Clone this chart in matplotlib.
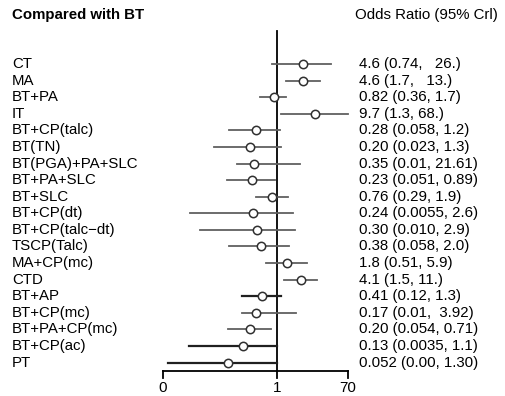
# Forest plot: odds ratios compared with BT

import matplotlib.pyplot as plt
import numpy as np

plt.rcParams['font.family'] = ['Liberation Sans', 'DejaVu Sans']

treatments = ["CT", "MA", "BT+PA", "IT", "BT+CP(talc)", "BT(TN)", "BT(PGA)+PA+SLC",
              "BT+PA+SLC", "BT+SLC", "BT+CP(dt)", "BT+CP(talc\u2212dt)", "TSCP(Talc)",
              "MA+CP(mc)", "CTD", "BT+AP", "BT+CP(mc)", "BT+PA+CP(mc)", "BT+CP(ac)", "PT"]
odds = [4.6, 4.6, 0.82, 9.7, 0.28, 0.20, 0.26, 0.23, 0.76, 0.24, 0.30, 0.38,
        1.8, 4.1, 0.41, 0.29, 0.20, 0.13, 0.052]
ci_low = [0.74, 1.7, 0.36, 1.3, 0.058, 0.023, 0.09, 0.051, 0.29, 0.0055, 0.010, 0.058,
          0.51, 1.5, 0.12, 0.12, 0.054, 0.0052, 0.00145]
ci_high = [26, 13, 1.7, 68, 1.2, 1.3, 3.9, 0.89, 1.9, 2.6, 2.9, 2.0,
           5.9, 11, 1.3, 3.1, 0.71, 1.0, 1.0]
or_text = ["4.6 (0.74,   26.)", "4.6 (1.7,   13.)", "0.82 (0.36, 1.7)", "9.7 (1.3, 68.)",
           "0.28 (0.058, 1.2)", "0.20 (0.023, 1.3)", "0.35 (0.01, 21.61)",
           "0.23 (0.051, 0.89)", "0.76 (0.29, 1.9)", "0.24 (0.0055, 2.6)",
           "0.30 (0.010, 2.9)", "0.38 (0.058, 2.0)", "1.8 (0.51, 5.9)", "4.1 (1.5, 11.)",
           "0.41 (0.12, 1.3)", "0.17 (0.01,  3.92)", "0.20 (0.054, 0.71)",
           "0.13 (0.0035, 1.1)", "0.052 (0.00, 1.30)"]
tick_pos = [0.0011, 1, 70]
tick_labels = ["0", "1", "70"]
dark_rows = ["BT+AP", "BT+CP(ac)", "PT"]

fig = plt.figure(figsize=(5.05, 3.96), dpi=100)
ax = fig.add_axes([0, 0, 1, 1])
ax.set_xscale('log')
ax.set_xlim(10 ** (-277 / 38.5), 10 ** (228 / 38.5))
ax.set_ylim(20.02, -3.86)
ax.axis('off')

y = np.arange(len(treatments))
for i, name in enumerate(treatments):
    dark = name in dark_rows
    ax.plot([ci_low[i], ci_high[i]], [y[i], y[i]], '-',
            color='#202020' if dark else '#606060', lw=1.6 if dark else 1.3, zorder=2)
ax.plot(odds, y, 'o', ms=6, mfc='white', mec='#303030', mew=1.1, zorder=3)

# reference line at OR = 1
ax.plot([1, 1], [-1.99, 18.52], color='black', lw=1.3, zorder=1)

# bottom axis
ax.plot([tick_pos[0], tick_pos[-1]], [18.52, 18.52], color='black', lw=1.3)
for t, lab in zip(tick_pos, tick_labels):
    ax.plot([t, t], [18.52, 18.95], color='black', lw=1.3)
    ax.text(t, 19.55, lab, ha='center', va='center', fontsize=11)

ytr = ax.get_yaxis_transform()
for i in range(len(treatments)):
    ax.text(12 / 505, y[i], treatments[i], transform=ytr, ha='left', va='center', fontsize=10.8)
    ax.text(359 / 505, y[i], or_text[i], transform=ytr, ha='left', va='center', fontsize=10.8)

fig.text(12 / 505, 1 - 14.5 / 396, "Compared with BT", fontsize=10.8, fontweight='bold',
         ha='left', va='center')
fig.text(355 / 505, 1 - 15 / 396, "Odds Ratio (95% Crl)", fontsize=10.8,
         ha='left', va='center')

fig.savefig('out.png', dpi=100)
